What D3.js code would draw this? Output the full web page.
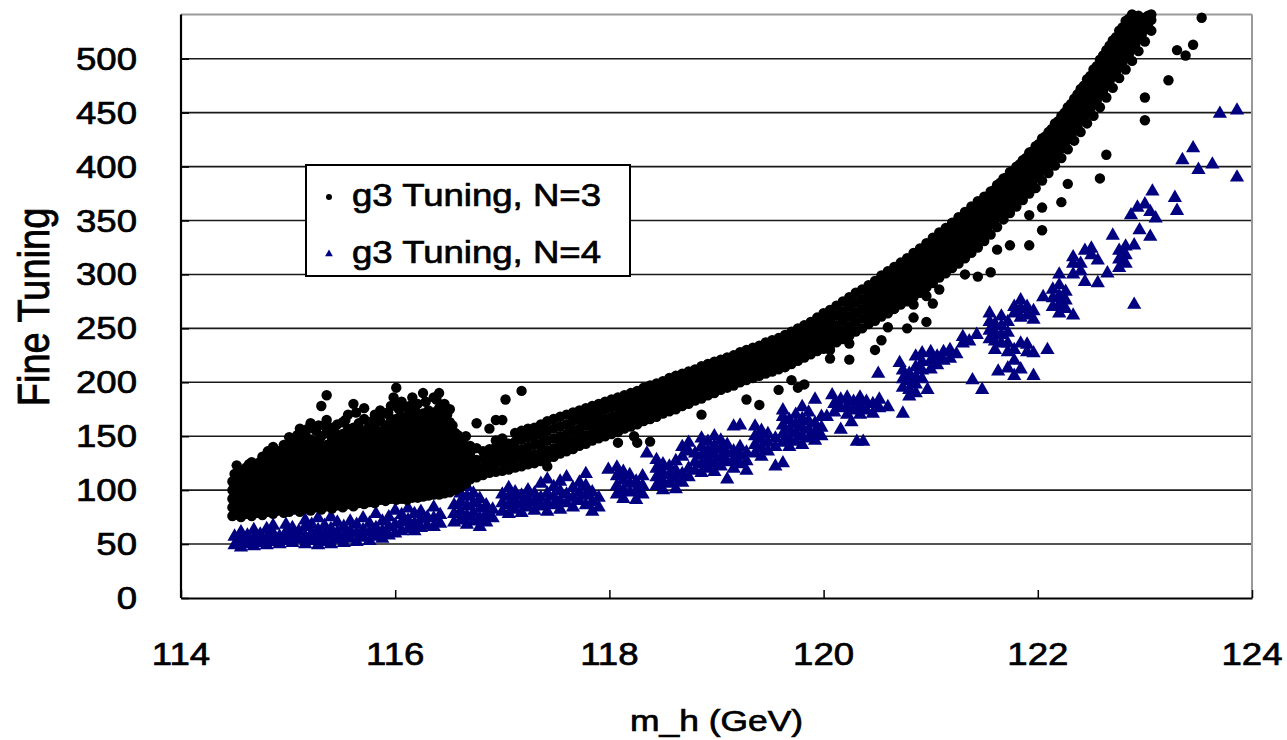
<!DOCTYPE html>
<html>
<head>
<meta charset="utf-8">
<script src="https://cdn.jsdelivr.net/npm/d3@7"></script>
<style>
  body { margin:0; background:#fff; }
  svg text { font-family:"Liberation Sans", Arial, sans-serif; fill:#000; stroke:#000; stroke-width:0.7; }
</style>
</head>
<body>
<svg id="chart" width="1287" height="740"></svg>
<script>

// ---- data ----
const seriesNames = ['g3 Tuning, N=3', 'g3 Tuning, N=4'];
const xTicks = [114, 116, 118, 120, 122, 124];
const yTicks = [0, 50, 100, 150, 200, 250, 300, 350, 400, 450, 500];

// each row: [m_h, fine tuning values at that m_h ...]
const n3Columns = [
  [114.48, 76, 84, 92, 100, 108],
  [114.50, 80, 88, 96, 104, 115],
  [114.52, 79, 88, 97, 123],
  [114.54, 77, 85, 93, 102, 111],
  [114.56, 75, 83, 91, 99, 107, 116],
  [114.585, 79, 87, 95, 103, 111, 119],
  [114.61, 78, 86, 95, 104, 113, 121],
  [114.635, 80, 89, 98, 107, 116, 124],
  [114.66, 76, 84, 93, 101, 110, 118, 126],
  [114.685, 80, 88, 97, 106, 114, 122],
  [114.71, 79, 87, 96, 105, 114, 122],
  [114.735, 81, 90, 99, 108, 117, 126],
  [114.76, 77, 85, 94, 102, 111, 120, 131],
  [114.785, 81, 90, 99, 107, 116, 128],
  [114.81, 80, 88, 97, 106, 115, 124, 136],
  [114.835, 82, 91, 100, 109, 119, 131],
  [114.86, 78, 86, 95, 103, 112, 127, 140],
  [114.885, 82, 91, 99, 108, 120, 134],
  [114.91, 81, 89, 98, 107, 118, 130],
  [114.935, 84, 93, 102, 112, 124, 137],
  [114.96, 79, 87, 96, 105, 114, 123, 133, 142],
  [114.985, 83, 92, 101, 110, 119, 129],
  [115.01, 80, 88, 97, 106, 116, 126, 137, 149],
  [115.035, 84, 93, 102, 112, 122, 132, 145],
  [115.06, 82, 90, 99, 108, 119, 129, 140],
  [115.085, 85, 94, 104, 114, 125, 137, 151],
  [115.11, 80, 89, 98, 110, 121, 133, 145, 157],
  [115.135, 86, 95, 104, 114, 124, 136],
  [115.16, 83, 91, 100, 109, 118, 128, 139, 152],
  [115.185, 86, 95, 104, 113, 122, 133, 144, 157],
  [115.21, 81, 90, 99, 108, 117, 126, 136, 147, 162],
  [115.235, 87, 96, 105, 116, 127, 138],
  [115.26, 84, 92, 101, 111, 122, 132, 143, 155],
  [115.285, 87, 95, 104, 113, 123, 135, 146, 160],
  [115.31, 82, 90, 99, 108, 118, 128, 140, 150, 178],
  [115.335, 88, 97, 107, 116, 126, 136, 160],
  [115.36, 85, 93, 102, 112, 121, 131, 142, 154, 165, 188],
  [115.385, 88, 97, 106, 115, 127, 140, 152],
  [115.41, 83, 92, 101, 110, 120, 134, 146, 158],
  [115.435, 90, 99, 108, 118, 129, 141, 154],
  [115.46, 86, 94, 103, 113, 124, 137, 149, 161],
  [115.485, 89, 98, 107, 116, 126, 136, 146],
  [115.51, 84, 93, 102, 111, 121, 130, 141, 152, 163],
  [115.535, 91, 100, 110, 120, 130, 141, 152, 165],
  [115.56, 87, 95, 105, 115, 125, 135, 146, 157, 170],
  [115.585, 90, 99, 108, 118, 128, 139, 151],
  [115.61, 85, 94, 103, 113, 123, 133, 144, 158, 180],
  [115.635, 92, 101, 111, 121, 132, 144, 156, 172],
  [115.66, 88, 97, 106, 116, 127, 138, 150, 162],
  [115.685, 92, 101, 110, 120, 130, 141],
  [115.71, 87, 96, 105, 114, 124, 134, 145, 155, 166, 176],
  [115.735, 93, 103, 113, 123, 134, 145, 156],
  [115.76, 89, 98, 108, 118, 128, 139, 150, 161],
  [115.785, 93, 102, 112, 121, 131, 142, 153, 164],
  [115.81, 88, 97, 106, 115, 125, 136, 147, 158, 170],
  [115.835, 95, 104, 114, 124, 135, 147, 168],
  [115.86, 91, 100, 109, 119, 130, 141, 152, 164, 174],
  [115.885, 95, 104, 113, 123, 133, 144, 155],
  [115.91, 90, 99, 108, 118, 128, 138, 149, 160, 171],
  [115.935, 97, 106, 116, 127, 138, 149, 160, 172],
  [115.96, 92, 101, 111, 121, 132, 143, 155, 166, 178],
  [115.985, 96, 105, 115, 126, 137, 148, 160, 186],
  [116.01, 91, 100, 110, 120, 131, 142, 154, 166, 178, 195],
  [116.035, 97, 106, 117, 128, 139, 150, 162, 175],
  [116.06, 92, 101, 111, 122, 133, 144, 156, 168, 182],
  [116.085, 96, 105, 115, 126, 137, 149, 162],
  [116.11, 91, 100, 110, 120, 131, 143, 155, 168, 176],
  [116.135, 98, 107, 118, 129, 140, 152, 164, 178],
  [116.16, 93, 102, 112, 123, 134, 146, 158, 170, 186],
  [116.185, 98, 107, 117, 128, 139, 150, 162, 174],
  [116.21, 93, 102, 112, 122, 133, 144, 156, 167, 180],
  [116.235, 99, 108, 119, 130, 142, 154, 165],
  [116.26, 94, 103, 113, 124, 136, 148, 159, 171, 190],
  [116.285, 100, 110, 121, 132, 144, 156, 168, 182],
  [116.31, 95, 104, 115, 126, 138, 150, 162, 174],
  [116.335, 100, 110, 120, 131, 142, 154, 166],
  [116.36, 96, 105, 115, 125, 136, 148, 160, 172, 186],
  [116.385, 101, 111, 122, 133, 145, 157, 170, 184],
  [116.41, 96, 105, 116, 127, 139, 151, 163, 176, 190],
  [116.435, 102, 112, 123, 135, 147, 160, 173],
  [116.46, 97, 106, 117, 129, 141, 153, 166, 180],
  [116.485, 103, 113, 124, 135, 146, 158, 170],
  [116.51, 98, 107, 118, 129, 140, 151, 163, 175],
  [116.535, 104, 114, 125, 137, 148, 160],
  [116.56, 100, 109, 120, 131, 142, 153],
  [116.585, 107, 117, 128, 139, 151],
  [116.61, 103, 112, 122, 133, 145],
  [116.635, 110, 120, 131, 143],
  [116.66, 106, 115, 125, 136, 150],
  [116.70, 110, 118, 126, 134, 141],
  [116.76, 112, 120, 128, 139, 162],
  [116.82, 114, 121, 129, 136],
  [116.88, 116, 123, 131, 138, 157],
  [116.94, 117, 125, 132, 140, 146, 165],
  [117.00, 118, 126, 134, 141, 148, 165],
  [117.03, 184],
  [117.06, 119, 127, 135, 143],
  [117.12, 121, 129, 137, 145, 153],
  [117.18, 122, 130, 138, 147, 155, 192],
  [117.24, 124, 132, 140, 149, 157],
  [117.30, 125, 133, 142, 150, 158],
  [117.36, 127, 135, 143, 152, 161],
  [117.42, 129, 137, 146, 155, 164, 122],
  [117.48, 131, 139, 148, 157, 166],
  [117.54, 134, 142, 150, 159, 168],
  [117.60, 136, 144, 152, 161, 170],
  [117.66, 138, 146, 155, 164, 172],
  [117.72, 141, 149, 157, 166, 174],
  [117.78, 143, 151, 160, 168, 176],
  [117.84, 146, 154, 162, 170, 178],
  [117.90, 148, 156, 164, 172, 180],
  [117.96, 150, 158, 166, 175, 182],
  [118.02, 152, 160, 168, 177, 184],
  [118.08, 154, 162, 170, 178, 186, 144],
  [118.14, 157, 165, 173, 181, 188],
  [118.20, 159, 167, 175, 183, 190],
  [118.23, 150],
  [118.26, 161, 169, 177, 185, 192, 144],
  [118.32, 164, 172, 180, 188, 195],
  [118.38, 166, 174, 182, 190, 197, 145],
  [118.44, 168, 176, 184, 192, 199],
  [118.50, 171, 179, 187, 194, 201],
  [118.56, 173, 181, 189, 197, 204],
  [118.62, 175, 183, 191, 199, 206],
  [118.68, 178, 186, 194, 201, 208],
  [118.74, 180, 188, 196, 203, 210],
  [118.80, 183, 190, 198, 205, 212],
  [118.86, 185, 193, 200, 208, 215, 170],
  [118.92, 188, 195, 203, 210, 217],
  [118.98, 190, 197, 205, 212, 219],
  [119.04, 193, 200, 207, 214, 221],
  [119.10, 195, 202, 209, 216, 223],
  [119.16, 197, 204, 211, 218, 225],
  [119.22, 200, 207, 214, 221, 228],
  [119.28, 202, 209, 216, 223, 230, 184],
  [119.34, 204, 211, 218, 225, 232],
  [119.40, 206, 213, 220, 227, 234, 179],
  [119.46, 208, 215, 222, 230, 237],
  [119.52, 210, 217, 224, 232, 239],
  [119.58, 212, 219, 226, 234, 241, 193],
  [119.64, 214, 221, 229, 236, 244],
  [119.70, 217, 224, 232, 239, 247, 202],
  [119.76, 220, 227, 235, 242, 250, 195],
  [119.82, 223, 230, 238, 245, 253, 198],
  [119.88, 226, 233, 241, 248, 256],
  [119.94, 229, 236, 244, 252, 260],
  [120.00, 231, 239, 247, 255, 264],
  [120.06, 234, 242, 250, 258, 267, 230, 222],
  [120.12, 237, 245, 253, 262, 271],
  [120.18, 240, 248, 257, 266, 275],
  [120.24, 243, 252, 261, 270, 279, 236, 221],
  [120.30, 247, 256, 265, 274, 283],
  [120.36, 250, 259, 268, 277, 286],
  [120.42, 254, 263, 272, 281, 290],
  [120.45, 259, 268, 279, 289],
  [120.48, 257, 266, 275, 285, 294, 230],
  [120.51, 263, 273, 283, 294],
  [120.54, 261, 270, 280, 289, 299, 239],
  [120.57, 267, 277, 287, 297],
  [120.60, 264, 274, 284, 293, 303, 251],
  [120.63, 271, 281, 291, 301],
  [120.66, 268, 278, 288, 297, 307],
  [120.69, 275, 285, 295, 305],
  [120.72, 272, 282, 292, 301, 311],
  [120.75, 279, 289, 299, 309],
  [120.78, 275, 285, 295, 305, 315, 250],
  [120.81, 283, 293, 303, 313],
  [120.84, 279, 289, 299, 309, 320, 260, 272],
  [120.87, 288, 298, 308, 318],
  [120.90, 283, 293, 303, 314, 324],
  [120.93, 292, 302, 313, 323],
  [120.96, 288, 298, 308, 318, 329, 256, 280],
  [120.99, 296, 306, 317, 327],
  [121.02, 292, 302, 313, 323, 334, 273],
  [121.05, 301, 311, 322, 332],
  [121.08, 297, 307, 318, 328, 339, 286],
  [121.11, 305, 316, 326, 337],
  [121.14, 301, 311, 322, 332, 343],
  [121.17, 310, 320, 331, 341],
  [121.20, 306, 316, 327, 337, 348],
  [121.23, 314, 325, 335, 346],
  [121.26, 310, 321, 331, 342, 353],
  [121.29, 319, 330, 340, 351],
  [121.32, 315, 325, 336, 347, 358, 300],
  [121.35, 324, 335, 345, 356],
  [121.38, 320, 330, 341, 352, 363],
  [121.41, 329, 340, 350, 361],
  [121.44, 325, 335, 346, 357, 368, 298],
  [121.47, 335, 345, 356, 366],
  [121.50, 331, 341, 351, 362, 372],
  [121.53, 341, 351, 361, 371],
  [121.56, 337, 347, 357, 367, 377, 302],
  [121.59, 348, 358, 368, 378],
  [121.62, 344, 353, 363, 373, 383, 323],
  [121.65, 355, 365, 375, 385],
  [121.68, 351, 360, 370, 379, 389],
  [121.71, 361, 371, 380, 390],
  [121.74, 357, 366, 376, 385, 395, 327],
  [121.77, 367, 377, 386, 396],
  [121.80, 363, 372, 381, 391, 400],
  [121.83, 373, 383, 392, 402],
  [121.86, 369, 378, 387, 397, 406],
  [121.89, 379, 389, 399, 408],
  [121.92, 375, 384, 394, 403, 413, 327, 355],
  [121.95, 385, 395, 404, 414],
  [121.98, 380, 390, 399, 409, 419],
  [122.01, 391, 401, 411, 421],
  [122.04, 387, 397, 406, 416, 426, 341, 362],
  [122.07, 398, 408, 418, 428],
  [122.10, 394, 403, 413, 422, 432],
  [122.13, 405, 415, 425, 435],
  [122.16, 401, 410, 420, 430, 440],
  [122.19, 413, 422, 432, 442],
  [122.22, 408, 417, 427, 437, 447, 367],
  [122.25, 420, 430, 440, 450],
  [122.28, 416, 425, 435, 445, 455, 384],
  [122.31, 428, 438, 448, 458],
  [122.34, 424, 433, 443, 453, 463],
  [122.37, 437, 447, 457, 467],
  [122.40, 432, 442, 452, 462, 472],
  [122.43, 445, 455, 465, 475],
  [122.46, 440, 450, 460, 470, 481],
  [122.49, 453, 463, 474, 484],
  [122.52, 447, 458, 468, 479, 490],
  [122.55, 461, 472, 483, 493],
  [122.58, 455, 466, 477, 488, 499, 389],
  [122.61, 470, 481, 492, 503],
  [122.64, 464, 475, 486, 497, 508, 411],
  [122.67, 479, 490, 501, 512],
  [122.70, 473, 484, 495, 506, 517],
  [122.73, 487, 498, 509, 520],
  [122.76, 482, 493, 504, 515, 526],
  [122.79, 496, 507, 518, 529],
  [122.82, 490, 501, 512, 524, 535],
  [122.85, 504, 515, 526, 537],
  [122.88, 498, 509, 520, 531, 541],
  [122.91, 513, 524, 535],
  [122.94, 507, 518, 529, 540],
  [122.97, 522, 533],
  [123.00, 516, 527, 538, 443, 464],
  [123.03, 530, 540],
  [123.06, 526, 536, 541],
  [123.22, 480],
  [123.30, 508],
  [123.38, 503],
  [123.45, 513],
  [123.53, 538]
];

const n4Columns = [
  [114.50, 49, 57],
  [114.56, 47, 54, 61],
  [114.62, 50, 58],
  [114.68, 48, 55, 63],
  [114.74, 51, 59],
  [114.80, 49, 56, 64],
  [114.86, 52, 60, 67],
  [114.92, 50, 57],
  [114.98, 53, 61, 68],
  [115.04, 51, 58, 65],
  [115.10, 54, 62],
  [115.16, 50, 57, 66, 72],
  [115.22, 53, 60, 68],
  [115.28, 49, 56, 63, 74],
  [115.34, 52, 59, 67],
  [115.40, 50, 57, 64, 75],
  [115.46, 54, 61, 70],
  [115.52, 51, 58, 66],
  [115.58, 55, 62, 71],
  [115.64, 52, 60, 68],
  [115.70, 56, 63, 74],
  [115.76, 53, 61, 69],
  [115.82, 57, 65, 78],
  [115.88, 55, 62, 71],
  [115.94, 58, 66, 75],
  [116.00, 60, 68, 81],
  [116.06, 62, 70, 77],
  [116.12, 64, 72, 83],
  [116.18, 62, 69, 78],
  [116.24, 65, 73, 80],
  [116.30, 67, 75],
  [116.36, 66, 74, 84],
  [116.42, 69, 77],
  [116.55, 70, 78, 86],
  [116.61, 72, 80, 89, 97],
  [116.67, 68, 76, 85, 94, 103],
  [116.73, 71, 79, 88, 97],
  [116.79, 66, 74, 83, 92],
  [116.85, 70, 78, 86],
  [116.91, 74, 82],
  [117.00, 80, 88, 96],
  [117.06, 78, 86, 94, 102],
  [117.12, 82, 90, 98],
  [117.18, 79, 87, 95],
  [117.24, 84, 92, 100],
  [117.30, 81, 89, 97],
  [117.36, 85, 93, 106],
  [117.42, 80, 88, 97, 110],
  [117.48, 86, 94, 103],
  [117.54, 82, 90, 99, 108],
  [117.60, 88, 96, 112],
  [117.66, 84, 93, 102],
  [117.72, 90, 98, 107],
  [117.78, 86, 95, 104, 115],
  [117.84, 80, 89, 98],
  [117.90, 84, 93],
  [117.99, 119],
  [118.07, 96, 104, 113, 121],
  [118.13, 92, 100, 109, 117],
  [118.19, 98, 106, 114],
  [118.25, 91, 100, 108],
  [118.31, 96, 104, 113],
  [118.35, 134],
  [118.44, 104, 112, 120, 128],
  [118.50, 100, 108, 116, 124],
  [118.56, 106, 114, 122],
  [118.62, 101, 110, 118, 127],
  [118.68, 107, 115, 131, 140],
  [118.74, 112, 120, 136, 144],
  [118.80, 118, 126, 134],
  [118.86, 116, 124, 132, 140, 148],
  [118.92, 120, 128, 136, 145],
  [118.98, 117, 125, 133, 141, 150],
  [119.04, 122, 130, 138, 146],
  [119.10, 110, 126, 134, 142],
  [119.16, 120, 128, 136, 159],
  [119.22, 124, 132, 140, 160],
  [119.28, 118, 127, 135],
  [119.36, 134, 142, 150, 159],
  [119.42, 131, 139, 147, 155],
  [119.48, 136, 144, 152],
  [119.55, 122, 140, 148],
  [119.62, 125, 144, 152, 160, 168, 174],
  [119.68, 140, 148, 156, 165],
  [119.74, 145, 153, 161, 170],
  [119.80, 142, 150, 158, 166, 177],
  [119.86, 148, 156, 164, 172],
  [119.92, 146, 154, 162, 184],
  [119.98, 150, 158, 168],
  [120.03, 168],
  [120.08, 188],
  [120.10, 180, 172],
  [120.16, 176, 184, 156],
  [120.22, 170, 178, 186],
  [120.26, 163],
  [120.28, 174, 182],
  [120.31, 145],
  [120.34, 170, 178, 186],
  [120.37, 145],
  [120.40, 174, 182],
  [120.46, 171, 180],
  [120.51, 208],
  [120.52, 176, 184],
  [120.60, 177],
  [120.71, 218],
  [120.74, 171, 195, 203, 211],
  [120.80, 187, 193, 201, 208],
  [120.86, 190, 198, 205, 214, 224],
  [120.92, 203, 211, 219, 227],
  [120.97, 193],
  [121.00, 212, 220, 228],
  [121.06, 216, 224],
  [121.12, 220, 228],
  [121.18, 222, 230],
  [121.24, 226],
  [121.30, 236, 242],
  [121.36, 238],
  [121.39, 202],
  [121.43, 244],
  [121.48, 193],
  [121.55, 240, 248, 256, 264],
  [121.60, 230, 238, 246, 254],
  [121.63, 210],
  [121.66, 236, 244, 252, 261],
  [121.72, 228, 236, 246, 256, 213],
  [121.78, 220, 230, 264, 270, 206],
  [121.84, 236, 260, 268, 276, 212],
  [121.90, 228, 262, 270, 235],
  [121.96, 227, 258, 266, 206],
  [122.05, 279],
  [122.09, 230],
  [122.14, 270, 278, 286],
  [122.20, 264, 272, 280, 290, 300],
  [122.26, 268, 276, 284],
  [122.33, 262, 300, 310, 316],
  [122.40, 303, 310],
  [122.44, 293, 322],
  [122.50, 318, 324],
  [122.56, 313, 292],
  [122.65, 301],
  [122.70, 336],
  [122.76, 306, 314, 322],
  [122.82, 310, 318, 326],
  [122.87, 355],
  [122.90, 327, 272],
  [122.93, 362],
  [122.95, 341],
  [123.00, 365],
  [123.05, 358, 335],
  [123.07, 377],
  [123.10, 352],
  [123.28, 371],
  [123.30, 359],
  [123.35, 406],
  [123.45, 417],
  [123.50, 397],
  [123.63, 402],
  [123.70, 449],
  [123.86, 452, 390]
];

// ---- layout ----
const plotLeft=181, plotRight=1252, plotTop=14.5, plotBottom=598;
const stretch=1.18;   // the original glyphs are a bit wide

const xScale=d3.scaleLinear().domain([114,124]).range([plotLeft,plotRight]);
const yScale=d3.scaleLinear().domain([0,541]).range([plotBottom,plotTop]);

const toPoints = cols => cols.flatMap(c => c.slice(1).map(v => ({x:c[0], y:v})));
const n3=toPoints(n3Columns);
const n4=toPoints(n4Columns);

const svg=d3.select('#chart');
svg.append('rect').attr('width',1287).attr('height',740).attr('fill','#fff');

// gridlines
svg.append('g').selectAll('line').data(yTicks.filter(v => v>0))
   .join('line')
   .attr('x1',plotLeft).attr('x2',plotRight)
   .attr('y1',d => yScale(d)).attr('y2',d => yScale(d))
   .attr('stroke','#1a1a1a').attr('stroke-width',1.6);

// frame: grey top/right, black axes
svg.append('line').attr('x1',plotLeft).attr('x2',plotRight).attr('y1',plotTop).attr('y2',plotTop)
   .attr('stroke','#9a9a9a').attr('stroke-width',2);
svg.append('line').attr('x1',plotRight).attr('x2',plotRight).attr('y1',plotTop).attr('y2',plotBottom)
   .attr('stroke','#9a9a9a').attr('stroke-width',2);

// points
const plot=svg.append('g');
plot.selectAll('path.n4').data(n4)
   .join('path').attr('class','n4')
   .attr('d',d3.symbol(d3.symbolTriangle).size(88))
   .attr('transform',d => 'translate('+xScale(d.x)+','+yScale(d.y)+')')
   .attr('fill','#000080');
plot.selectAll('circle').data(n3)
   .join('circle')
   .attr('cx',d => xScale(d.x)).attr('cy',d => yScale(d.y))
   .attr('r',5.2).attr('fill','#000');

// axes (ticks point inwards)
const xAxis=svg.append('g').attr('transform','translate(0,'+plotBottom+')')
   .call(d3.axisBottom(xScale).tickValues(xTicks).tickSize(-8).tickSizeOuter(0).tickFormat(''));
const yAxis=svg.append('g').attr('transform','translate('+plotLeft+',0)')
   .call(d3.axisLeft(yScale).tickValues(yTicks).tickSize(-8).tickSizeOuter(0).tickFormat(''));
[xAxis,yAxis].forEach(a => {
   a.select('.domain').attr('stroke','#000').attr('stroke-width',2.2);
   a.selectAll('.tick line').attr('stroke','#000').attr('stroke-width',1.5);
});
yAxis.select('.domain').attr('d','M0,'+plotTop+'V'+plotBottom);

// tick labels
svg.append('g').selectAll('text').data(yTicks)
   .join('text')
   .attr('transform',d => 'translate(137,'+(yScale(d)+11)+') scale('+stretch+',1)')
   .attr('text-anchor','end').attr('font-size',31)
   .text(d => d);
svg.append('g').selectAll('text').data(xTicks)
   .join('text')
   .attr('transform',d => 'translate('+xScale(d)+',665) scale('+stretch+',1)')
   .attr('text-anchor','middle').attr('font-size',31)
   .text(d => d);

// axis titles
svg.append('text')
   .attr('transform','translate('+((plotLeft+plotRight)/2)+',731) scale('+stretch+',1)')
   .attr('text-anchor','middle').attr('font-size',30)
   .text('m_h (GeV)');
svg.append('text')
   .attr('transform','translate(49,307) scale('+stretch+',1) rotate(-90)')
   .attr('text-anchor','middle').attr('font-size',38)
   .text('Fine Tuning');

// legend
const legend=svg.append('g');
legend.append('rect').attr('x',306).attr('y',165).attr('width',324).attr('height',111)
   .attr('fill','#fff').attr('stroke','#000').attr('stroke-width',2);
legend.append('circle').attr('cx',329).attr('cy',197).attr('r',3).attr('fill','#000');
legend.append('path').attr('d',d3.symbol(d3.symbolTriangle).size(26))
   .attr('transform','translate(329,254)').attr('fill','#000080');
legend.selectAll('text').data(seriesNames)
   .join('text')
   .attr('transform',(d,i) => 'translate(352,'+(206+i*57)+') scale('+stretch+',1)')
   .attr('font-size',31)
   .text(d => d);

</script>
</body>
</html>
